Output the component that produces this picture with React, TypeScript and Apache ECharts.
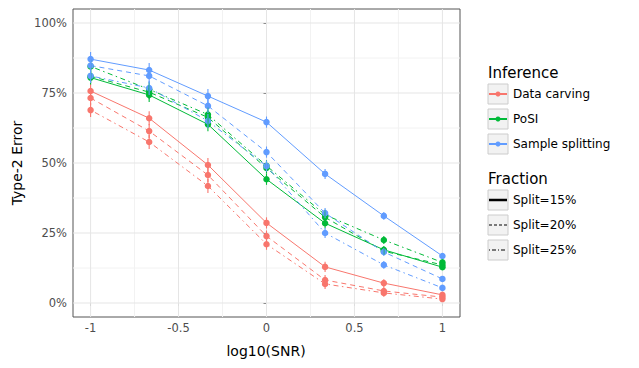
import React, { useEffect, useRef } from 'react';
import * as echarts from 'echarts';

// x values: log10(SNR)
const logSNR = [-1, -0.667, -0.333, 0, 0.333, 0.667, 1];

// Type-2 error (%) — Data carving
const carving15 = [75.7, 66.0, 49.3, 28.6, 12.9, 7.1, 2.9];
const carving20 = [73.2, 61.4, 45.7, 23.9, 8.2, 4.3, 2.1];
const carving25 = [68.9, 57.5, 41.8, 21.0, 6.8, 3.6, 1.4];
// PoSI
const posi15 = [80.5, 74.3, 63.8, 44.2, 28.5, 19.0, 12.8];
const posi20 = [81.0, 75.3, 66.3, 48.2, 30.6, 18.5, 13.6];
const posi25 = [84.5, 76.3, 67.3, 49.0, 31.5, 22.5, 14.5];
// Sample splitting
const split15 = [87.1, 83.2, 73.9, 64.6, 46.1, 31.1, 16.8];
const split20 = [84.8, 81.1, 70.4, 53.9, 32.1, 18.2, 8.6];
const split25 = [81.1, 76.8, 65.0, 48.9, 25.0, 13.6, 5.4];

// error bar half-widths (%)
const errHalf = [2.5, 2.5, 2.5, 2.0, 1.8, 1.4, 1.0];

const methods = ['Data carving', 'PoSI', 'Sample splitting'];
const fractions = ['Split=15%', 'Split=20%', 'Split=25%'];
const methodColors = ['#F8766D', '#00BA38', '#619CFF'];
const seriesValues = [
  [carving15, carving20, carving25],
  [posi15, posi20, posi25],
  [split15, split20, split25],
];

const xTicks = [-1, -0.5, 0, 0.5, 1];
const yTicks = [0, 25, 50, 75, 100];
const xMinor = [-0.75, -0.25, 0.25, 0.75];
const yMinor = [12.5, 37.5, 62.5, 87.5];

const FONT = 'DejaVu Sans';
const dashTypes: any[] = ['solid', [5, 4], [1.5, 3.5, 5, 3.5]];

export default function App() {
  const ref = useRef<HTMLDivElement>(null);
  useEffect(() => {
    document.body.style.margin = '0';
    if (!ref.current) return;
    const chart = echarts.init(ref.current, undefined, { renderer: 'svg' });

    const series: any[] = [];

    const vGrid = (vals: number[], color: string, width: number) => ({
      type: 'custom',
      silent: true,
      z: 1,
      data: vals.map((v) => [v, 0]),
      renderItem: (params: any, api: any) => {
        const cs = params.coordSys;
        const p = api.coord([api.value(0), 0]);
        return {
          type: 'line',
          shape: { x1: p[0], y1: cs.y, x2: p[0], y2: cs.y + cs.height },
          style: { stroke: color, lineWidth: width },
        };
      },
    });
    const hGrid = (vals: number[], color: string, width: number) => ({
      type: 'custom',
      silent: true,
      z: 1,
      data: vals.map((v) => [0, v]),
      renderItem: (params: any, api: any) => {
        const cs = params.coordSys;
        const p = api.coord([0, api.value(1)]);
        return {
          type: 'line',
          shape: { x1: cs.x, y1: p[1], x2: cs.x + cs.width, y2: p[1] },
          style: { stroke: color, lineWidth: width },
        };
      },
    });
    series.push(vGrid(xMinor, '#F2F2F2', 1));
    series.push(hGrid(yMinor, '#F2F2F2', 1));
    series.push(vGrid(xTicks, '#E5E5E5', 1));
    series.push(hGrid(yTicks, '#E5E5E5', 1));

    methods.forEach((m, mi) => {
      const color = methodColors[mi];
      fractions.forEach((f, fi) => {
        const vals = seriesValues[mi][fi];
        series.push({
          name: m + ' ' + f,
          type: 'line',
          z: 3,
          data: logSNR.map((x, i) => [x, vals[i]]),
          symbol: 'circle',
          symbolSize: 6.5,
          showSymbol: true,
          lineStyle: { color, width: 1, type: dashTypes[fi] },
          itemStyle: { color },
        });
        series.push({
          type: 'custom',
          z: 4,
          silent: true,
          data: logSNR.map((x, i) => [x, vals[i], errHalf[i]]),
          renderItem: (params: any, api: any) => {
            const x = api.value(0);
            const y = api.value(1);
            const e = api.value(2);
            const p1 = api.coord([x, y - e]);
            const p2 = api.coord([x, y + e]);
            return {
              type: 'line',
              shape: { x1: p1[0], y1: p1[1], x2: p2[0], y2: p2[1] },
              style: { stroke: color, lineWidth: 1.1 },
            };
          },
        });
      });
    });

    // Legend graphics
    const legend: any[] = [];
    const keyX = 488;
    const keySize = 20;
    const textX = 513;
    legend.push({
      type: 'text', left: keyX, top: 65,
      style: { text: 'Inference', font: `15px "${FONT}"`, fill: '#000' },
    });
    const infY = [84, 109, 134];
    methods.forEach((m, i) => {
      const y = infY[i];
      legend.push({ type: 'rect', shape: { x: keyX, y, width: keySize, height: keySize }, style: { fill: '#F2F2F2', stroke: '#CCCCCC', lineWidth: 1 } });
      legend.push({ type: 'line', shape: { x1: keyX + 1, y1: y + keySize / 2, x2: keyX + keySize - 1, y2: y + keySize / 2 }, style: { stroke: methodColors[i], lineWidth: 2 } });
      legend.push({ type: 'circle', shape: { cx: keyX + keySize / 2, cy: y + keySize / 2, r: 2.5 }, style: { fill: methodColors[i] } });
      legend.push({ type: 'text', x: textX, y: y + keySize / 2, style: { text: m, font: `12px "${FONT}"`, fill: '#000', verticalAlign: 'middle' } });
    });
    legend.push({
      type: 'text', left: keyX, top: 171,
      style: { text: 'Fraction', font: `15px "${FONT}"`, fill: '#000' },
    });
    const fracY = [190, 215, 240];
    fractions.forEach((f, i) => {
      const y = fracY[i];
      legend.push({ type: 'rect', shape: { x: keyX, y, width: keySize, height: keySize }, style: { fill: '#F2F2F2', stroke: '#CCCCCC', lineWidth: 1 } });
      legend.push({
        type: 'line',
        shape: { x1: keyX + 1, y1: y + keySize / 2, x2: keyX + keySize - 1, y2: y + keySize / 2 },
        style: { stroke: '#000', lineWidth: i === 0 ? 2.5 : 1, lineDash: i === 0 ? null : i === 1 ? [3, 2] : [1, 2, 4, 2] },
      });
      legend.push({ type: 'text', x: textX, y: y + keySize / 2, style: { text: f, font: `12px "${FONT}"`, fill: '#000', verticalAlign: 'middle' } });
    });

    // axis titles
    legend.push({
      type: 'text', x: 266, y: 351,
      style: { text: 'log10(SNR)', font: `14px "${FONT}"`, fill: '#000', align: 'center', verticalAlign: 'middle' },
    });
    legend.push({
      type: 'text', x: 17, y: 163, rotation: Math.PI / 2,
      style: { text: 'Type-2 Error', font: `14px "${FONT}"`, fill: '#000', align: 'center', verticalAlign: 'middle' },
    });

    chart.setOption({
      animation: false,
      backgroundColor: '#fff',
      textStyle: { fontFamily: FONT },
      grid: {
        left: 73, top: 9, width: 387, height: 308,
        show: true, backgroundColor: '#fff', borderColor: '#555', borderWidth: 1,
        containLabel: false,
      },
      xAxis: {
        type: 'value', min: -1.1, max: 1.1,
        axisLine: { show: false },
        splitLine: { show: false },
        axisTick: { show: true, length: 3, lineStyle: { color: '#333' }, customValues: xTicks },
        axisLabel: { customValues: xTicks, color: '#4D4D4D', fontSize: 11.5, margin: 5, fontFamily: FONT },
      },
      yAxis: {
        type: 'value', min: -5, max: 105,
        axisLine: { show: false },
        splitLine: { show: false },
        axisTick: { show: true, length: 3, lineStyle: { color: '#333' }, customValues: yTicks },
        axisLabel: { customValues: yTicks, color: '#4D4D4D', fontSize: 11.5, margin: 6, fontFamily: FONT, formatter: (v: number) => v + '%' },
      },
      series,
      graphic: legend,
    });

    return () => chart.dispose();
  }, []);
  return <div ref={ref} style={{ width: 639, height: 368 }} />;
}
